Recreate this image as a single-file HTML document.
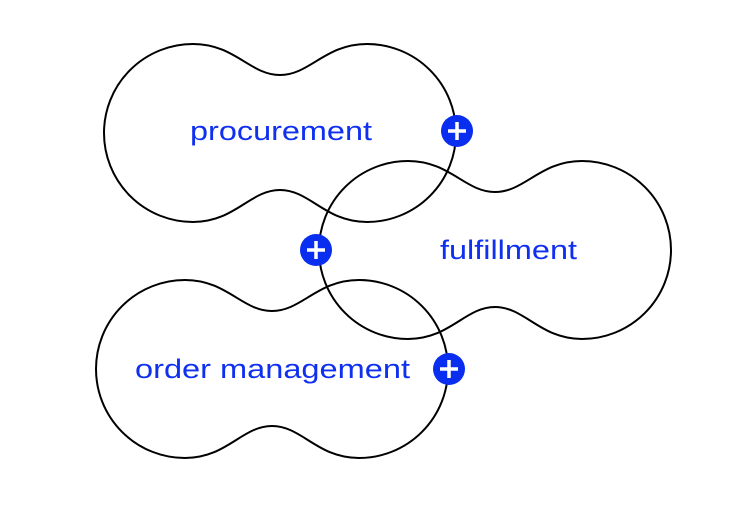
<!DOCTYPE html>
<html><head><style>
html,body{margin:0;padding:0;background:#fff;}
svg{display:block;}
text{font-family:"Liberation Sans",sans-serif;font-size:27px;fill:#1030f0;}
</style></head><body>
<svg width="750" height="519" viewBox="0 0 750 519" xmlns="http://www.w3.org/2000/svg">
<defs>
<path id="p" d="M193 44 C235 44 250 75 280 75 C310 75 325 44 367 44 A89 89 0 0 1 367 222 C325 222 310 190 280 190 C250 190 235 222 193 222 A89 89 0 0 1 193 44 Z" fill="none" stroke="#000" stroke-width="2"/>
<g id="plus"><circle r="16" fill="#0a2ef0"/><path d="M-9 0H9M0 -9V9" stroke="#fff" stroke-width="3.5"/></g>
</defs>
<use href="#p"/>
<use href="#p" transform="translate(215,117)"/>
<use href="#p" transform="translate(-8,236)"/>
<text x="190" y="140" textLength="182" lengthAdjust="spacingAndGlyphs">procurement</text>
<text x="440" y="259" textLength="137" lengthAdjust="spacingAndGlyphs">fulfillment</text>
<text x="135" y="378" textLength="275" lengthAdjust="spacingAndGlyphs">order management</text>
<use href="#plus" transform="translate(457,131)"/>
<use href="#plus" transform="translate(316,250)"/>
<use href="#plus" transform="translate(449,369)"/>
</svg>
</body></html>
